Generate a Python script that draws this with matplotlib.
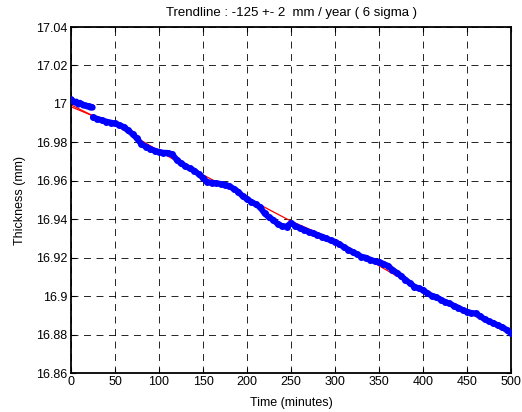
import matplotlib
matplotlib.use("Agg")
import matplotlib.pyplot as plt

plt.rcParams['font.family'] = ['Liberation Sans', 'DejaVu Sans']
plt.rcParams['lines.scale_dashes'] = False

# Early measurements (first ~25 minutes)
t_early = [0, 2, 4, 6, 8, 10, 12, 14, 16, 18, 20, 22, 24]
thick_early = [17.0025, 17.0015, 17.0008, 17.0012, 17.0002, 17.0006, 16.9998,
               16.9995, 16.9992, 16.9990, 16.9989, 16.9986, 16.9984]

# Main measurement run
t_main = list(range(25, 501, 5))
thick_main = [
    16.9930, 16.9922, 16.9915, 16.9908, 16.9903, 16.9898, 16.9890, 16.9880,
    16.9862, 16.9843, 16.9820, 16.9790, 16.9778, 16.9765, 16.9757, 16.9750,
    16.9746, 16.9745, 16.9738, 16.9710, 16.9690, 16.9677, 16.9664, 16.9653,
    16.9635, 16.9615, 16.9592, 16.9590, 16.9587, 16.9584, 16.9580, 16.9572,
    16.9558, 16.9543, 16.9520, 16.9505, 16.9490, 16.9478, 16.9462, 16.9430,
    16.9410, 16.9396, 16.9375, 16.9364, 16.9362, 16.9380, 16.9365, 16.9354,
    16.9345, 16.9335, 16.9328, 16.9318, 16.9310, 16.9300, 16.9290, 16.9283,
    16.9270, 16.9255, 16.9242, 16.9230, 16.9218, 16.9205, 16.9200, 16.9190,
    16.9182, 16.9178, 16.9168, 16.9158, 16.9138, 16.9122, 16.9105, 16.9085,
    16.9068, 16.9050, 16.9040, 16.9032, 16.9015, 16.9002, 16.8995, 16.8982,
    16.8970, 16.8962, 16.8950, 16.8940, 16.8928, 16.8919, 16.8912, 16.8910,
    16.8895, 16.8880, 16.8868, 16.8860, 16.8848, 16.8838, 16.8825, 16.8806,
]

# Trendline (piecewise) and a short start segment
t_trend = [0, 50, 115, 250, 300, 370, 500]
thick_trend = [16.9985, 16.9890, 16.9715, 16.9390, 16.9290, 16.9105, 16.8800]
t_trend2 = [0, 32]
thick_trend2 = [16.9995, 16.9922]

x_ticks = [0, 50, 100, 150, 200, 250, 300, 350, 400, 450, 500]
y_ticks = [16.86, 16.88, 16.90, 16.92, 16.94, 16.96, 16.98, 17.00, 17.02, 17.04]
y_tick_labels = ['16.86', '16.88', '16.9', '16.92', '16.94', '16.96', '16.98',
                 '17', '17.02', '17.04']

fig = plt.figure(figsize=(5.22, 4.12), dpi=100)
ax = fig.add_axes([71 / 522, 39 / 412, 440 / 522, 346 / 412])

ax.plot(t_early, thick_early, color='#0000ff', lw=4.3, marker='o', ms=4.5,
        mew=0, solid_capstyle='round', zorder=3)
ax.plot(t_main, thick_main, color='#0000ff', lw=4.3, marker='o', ms=5,
        mew=0, solid_capstyle='round', zorder=3)
ax.plot(t_trend, thick_trend, color='#ff0000', lw=0.9, zorder=2)
ax.plot(t_trend2, thick_trend2, color='#ff0000', lw=0.9, zorder=2)

ax.set_xlim(0, 500)
ax.set_ylim(16.86, 17.04)
ax.set_xticks(x_ticks)
ax.set_xticklabels([str(v) for v in x_ticks])
ax.set_yticks(y_ticks)
ax.set_yticklabels(y_tick_labels)

ax.grid(True, color='black', lw=0.6, linestyle=(0, (5, 4)))
ax.set_axisbelow(True)
ax.tick_params(direction='in', length=3.5, width=0.8, top=True, right=True,
               labelsize=9, pad=2.5)
for sp in ax.spines.values():
    sp.set_linewidth(1.3)

ax.set_title('Trendline : -125 +- 2  mm / year ( 6 sigma )', fontsize=9.5, pad=8)
ax.set_xlabel('Time (minutes)', fontsize=9, labelpad=6)
ax.set_ylabel('Thickness (mm)', fontsize=9, labelpad=7)

fig.savefig('out.png', dpi=100)
